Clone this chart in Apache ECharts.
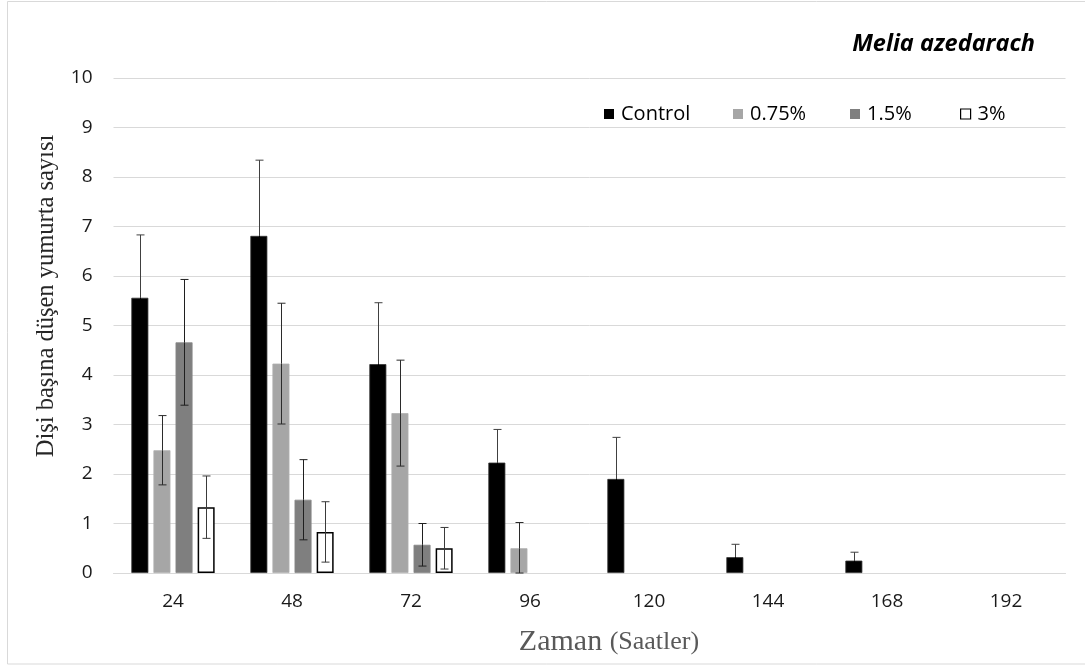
<!DOCTYPE html>
<html>
<head>
<meta charset="utf-8">
<script src="https://cdn.jsdelivr.net/npm/echarts@6/dist/echarts.min.js"></script>
<style>html,body{margin:0;padding:0;background:#fff}#c{width:1085px;height:666px}</style>
</head>
<body>
<div id="c"></div>
<script>
var categories = ['24', '48', '72', '96', '120', '144', '168', '192'];
var seriesNames = ['Control', '0.75%', '1.5%', '3%'];
var controlVals = [5.56, 6.81, 4.22, 2.23, 1.90, 0.32, 0.25, null];
var controlErr  = [1.27, 1.53, 1.24, 0.67, 0.84, 0.26, 0.17, null];
var c075Vals = [2.48, 4.23, 3.23, 0.50, null, null, null, null];
var c075Err  = [0.70, 1.22, 1.07, 0.52, null, null, null, null];
var c15Vals  = [4.66, 1.48, 0.57, null, null, null, null, null];
var c15Err   = [1.27, 0.81, 0.43, null, null, null, null, null];
var c3Vals   = [1.33, 0.83, 0.50, null, null, null, null, null];
var c3Err    = [0.63, 0.61, 0.42, null, null, null, null, null];
var yTicks = [0, 1, 2, 3, 4, 5, 6, 7, 8, 9, 10];

var allVals = [controlVals, c075Vals, c15Vals, c3Vals];
var allErrs = [controlErr, c075Err, c15Err, c3Err];
var fills = ['#000000', '#a6a6a6', '#7f7f7f', '#ffffff'];
var borders = ['#333333', '#b0b0b0', '#888888', '#000000'];
var errColors = ['#000000', '#2b2b2b', '#1f1f1f', '#3a3a3a'];
var legendLefts = [604, 733, 850, 960];
var BAR_W = 17, GAP = 5.1;

var chart = echarts.init(document.getElementById('c'), null, {renderer: 'canvas'});
var series = [];
seriesNames.forEach(function (name, i) {
  series.push({
    name: name, type: 'bar', data: allVals[i], barWidth: BAR_W, barGap: '30%',
    itemStyle: {color: fills[i], borderColor: borders[i], borderWidth: i === 3 ? 1.5 : 0.8},
    z: 2
  });
});
seriesNames.forEach(function (name, i) {
  var d = [];
  allVals[i].forEach(function (v, k) {
    if (v != null && allErrs[i][k] != null) d.push([k, v, Math.max(0, v - allErrs[i][k]), v + allErrs[i][k]]);
  });
  series.push({
    type: 'custom', silent: true, z: 5,
    data: d,
    encode: {x: 0, y: [2, 3]},
    renderItem: function (params, api) {
      var k = api.value(0);
      var off = -((4 * BAR_W + 3 * GAP) / 2) + BAR_W / 2 + i * (BAR_W + GAP);
      var lo = api.coord([k, api.value(2)]);
      var hi = api.coord([k, api.value(3)]);
      var x = Math.round(lo[0] + off) + 0.5;
      var hw = 4;
      var st = {stroke: errColors[i], lineWidth: 1};
      var stTop = {stroke: i === 0 ? '#404040' : errColors[i], lineWidth: 1};
      var mid = api.coord([k, api.value(1)]);
      return {
        type: 'group',
        children: [
          {type: 'line', shape: {x1: x, y1: hi[1], x2: x, y2: mid[1]}, style: stTop},
          {type: 'line', shape: {x1: x, y1: mid[1], x2: x, y2: lo[1]}, style: st},
          {type: 'line', shape: {x1: x - hw, y1: hi[1], x2: x + hw, y2: hi[1]}, style: stTop},
          {type: 'line', shape: {x1: x - hw, y1: lo[1], x2: x + hw, y2: lo[1]}, style: st}
        ]
      };
    }
  });
});

var legends = seriesNames.map(function (n, i) {
  return {
    data: [{name: n, itemStyle: {color: fills[i], borderColor: i === 3 ? '#000' : fills[i], borderWidth: i === 3 ? 1.2 : 0}}],
    left: legendLefts[i], top: 104, icon: 'rect', itemWidth: 10, itemHeight: 10, padding: 0,
    textStyle: {fontFamily: 'Open Sans', fontSize: 20, color: '#000000', padding: [0, 0, 0, 2]}
  };
});

chart.setOption({
  animation: false,
  backgroundColor: '#ffffff',
  grid: {left: 113.5, right: 19.5, top: 78, bottom: 93, containLabel: false},
  legend: legends,
  xAxis: {
    type: 'category', data: categories,
    axisLine: {show: true, lineStyle: {color: '#d9d9d9', width: 1}},
    axisTick: {show: false},
    axisLabel: {fontFamily: 'Open Sans', fontSize: 19, color: '#1a1a1a', margin: 19}
  },
  yAxis: {
    type: 'value', min: yTicks[0], max: yTicks[yTicks.length - 1], interval: 1,
    axisLine: {show: false}, axisTick: {show: false},
    splitLine: {lineStyle: {color: '#d9d9d9', width: 1}},
    axisLabel: {fontFamily: 'Open Sans', fontSize: 19, color: '#1a1a1a', margin: 21}
  },
  graphic: [
    {type: 'rect', shape: {x: 7.5, y: 1.5, width: 1085, height: 662.5}, style: {fill: 'none', stroke: '#d9d9d9', lineWidth: 1}, z: -1, silent: true},
    {type: 'text', x: 1035, y: 44, style: {text: 'Melia azedarach', fontFamily: 'Open Sans', fontStyle: 'italic', fontWeight: 'bold', fontSize: 23.5, fill: '#000000', align: 'right', verticalAlign: 'middle'}},
    {type: 'text', x: 47, y: 296, rotation: Math.PI / 2, style: {text: 'Dişi başına düşen yumurta sayısı', fontFamily: 'Liberation Serif', fontSize: 24.5, fill: '#262626', align: 'center', verticalAlign: 'middle'}},
    {type: 'text', x: 609, y: 642, style: {
      text: '{a|Zaman }{b|(Saatler)}',
      align: 'center', verticalAlign: 'middle',
      rich: {
        a: {fontFamily: 'Liberation Serif', fontSize: 30, fill: '#595959', color: '#595959'},
        b: {fontFamily: 'Liberation Serif', fontSize: 26, fill: '#595959', color: '#595959'}
      }
    }}
  ],
  series: series
});
</script>
</body>
</html>
